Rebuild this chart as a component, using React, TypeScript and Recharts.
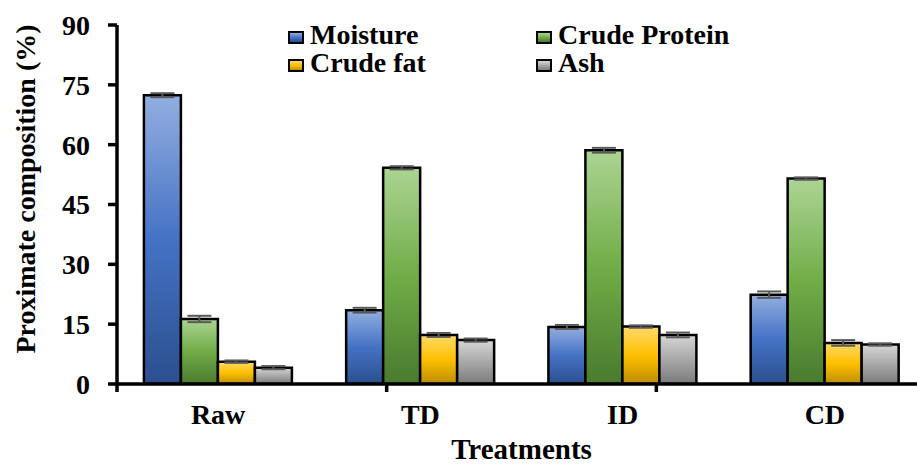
import React from 'react'
import { BarChart, Bar, XAxis, YAxis, Legend, ErrorBar } from 'recharts'

const categories: string[] = ['Raw', 'TD', 'ID', 'CD']
const moisture: number[] = [72.4, 18.5, 14.3, 22.4]
const moistureErr: number[] = [0.5, 0.6, 0.5, 0.8]
const protein: number[] = [16.3, 54.2, 58.6, 51.5]
const proteinErr: number[] = [0.8, 0.4, 0.6, 0.3]
const fat: number[] = [5.6, 12.3, 14.4, 10.3]
const fatErr: number[] = [0.3, 0.5, 0.3, 0.7]
const ash: number[] = [4.1, 11.0, 12.3, 9.9]
const ashErr: number[] = [0.4, 0.4, 0.6, 0.3]
const yTicks: number[] = [0, 15, 30, 45, 60, 75, 90]
const boundaryTicks: number[] = [0, 1, 2, 3]

const data = categories.map((name, i) => ({
    name,
    moisture: moisture[i], moistureErr: moistureErr[i],
    protein: protein[i], proteinErr: proteinErr[i],
    fat: fat[i], fatErr: fatErr[i],
    ash: ash[i], ashErr: ashErr[i],
}))

const series = [
    { key: 'moisture', label: 'Moisture', id: 'gMoist', stops: ['#93AEE0', '#4472C4', '#2B4F8E'] },
    { key: 'protein', label: 'Crude Protein', id: 'gProt', stops: ['#ACD493', '#70AD47', '#4A7A2E'] },
    { key: 'fat', label: 'Crude fat', id: 'gFat', stops: ['#FFDA6A', '#FFC000', '#BD8C00'] },
    { key: 'ash', label: 'Ash', id: 'gAsh', stops: ['#D6D6D6', '#A8A8A8', '#7A7A7A'] },
]

const font = 'Liberation Serif, serif'

const LegendBox = () => (
    <div style={{
        display: 'grid', gridTemplateColumns: '248px 220px', fontFamily: font,
        fontWeight: 'bold', fontSize: 28, lineHeight: '28px', color: '#000',
    }}>
        {series.map(s => (
            <div key={s.key} style={{ display: 'flex', alignItems: 'center', whiteSpace: 'nowrap', fontFamily: font }}>
                <span style={{
                    display: 'inline-block', width: 12, height: 9, marginTop: 4, marginRight: 6,
                    border: '2px solid #000',
                    background: `linear-gradient(${s.stops[0]}, ${s.stops[1]}, ${s.stops[2]})`,
                }} />
                <span style={{ fontFamily: font }}>{s.label}</span>
            </div>
        ))}
    </div>
)

const YLabel = () => (
    <text transform="translate(35,189) rotate(-90)" textAnchor="middle"
        fontFamily={font} fontWeight="bold" fontSize={28} fill="#000">
        Proximate composition (%)
    </text>
)

const App: React.FC = () => {
    const tickStyle = { fill: '#000', fontSize: 28, fontWeight: 'bold', fontFamily: font }
    return (
        <div style={{ position: 'absolute', left: 0, top: 0, width: 917, height: 466, overflow: 'hidden', background: '#fff' }}>
            <BarChart
                width={926}
                height={466}
                data={data}
                margin={{ top: 25, right: 0, left: 0, bottom: 80 }}
                barCategoryGap="13.3%"
                barGap={0}
            >
                <defs>
                    {series.map(s => (
                        <linearGradient key={s.id} id={s.id} x1="0" y1="0" x2="0" y2="1">
                            <stop offset="0%" stopColor={s.stops[0]} />
                            <stop offset="50%" stopColor={s.stops[1]} />
                            <stop offset="100%" stopColor={s.stops[2]} />
                        </linearGradient>
                    ))}
                </defs>
                <XAxis
                    dataKey="name"
                    height={1}
                    stroke="#000"
                    strokeWidth={3.5}
                    axisLine={{ stroke: '#000', strokeWidth: 3.5 }}
                    tickLine={false}
                    tickSize={0}
                    tickMargin={20}
                    tick={tickStyle}
                    label={{ value: 'Treatments', position: 'bottom', offset: 53, fill: '#000', fontSize: 29, fontWeight: 'bold', fontFamily: font }}
                />
                <XAxis
                    xAxisId="b"
                    type="number"
                    domain={[0, 4]}
                    ticks={boundaryTicks}
                    height={1}
                    axisLine={false}
                    tickSize={7}
                    stroke="#000"
                    tickLine={{ stroke: '#000', strokeWidth: 3.5 }}
                    tickFormatter={() => ''}
                />
                <YAxis
                    width={117}
                    domain={[0, 90]}
                    ticks={yTicks}
                    allowDataOverflow
                    stroke="#000"
                    strokeWidth={3.5}
                    axisLine={{ stroke: '#000', strokeWidth: 3.5 }}
                    tickLine={{ stroke: '#000', strokeWidth: 3.5 }}
                    tickSize={9}
                    tickMargin={18}
                    tick={tickStyle}
                    label={{ content: <YLabel /> }}
                />
                <Legend
                    layout="horizontal"
                    verticalAlign="middle"
                    align="center"
                    content={<LegendBox />}
                    wrapperStyle={{ top: 21, left: 288, width: 480 }}
                />
                {series.map(s => (
                    <Bar key={s.key} dataKey={s.key} name={s.label} fill={`url(#${s.id})`}
                        stroke="#000" strokeWidth={2.5} isAnimationActive={false}>
                        <ErrorBar dataKey={`${s.key}Err`} width={12} stroke="#595959" strokeWidth={2} />
                    </Bar>
                ))}
            </BarChart>
        </div>
    )
}

export default App
